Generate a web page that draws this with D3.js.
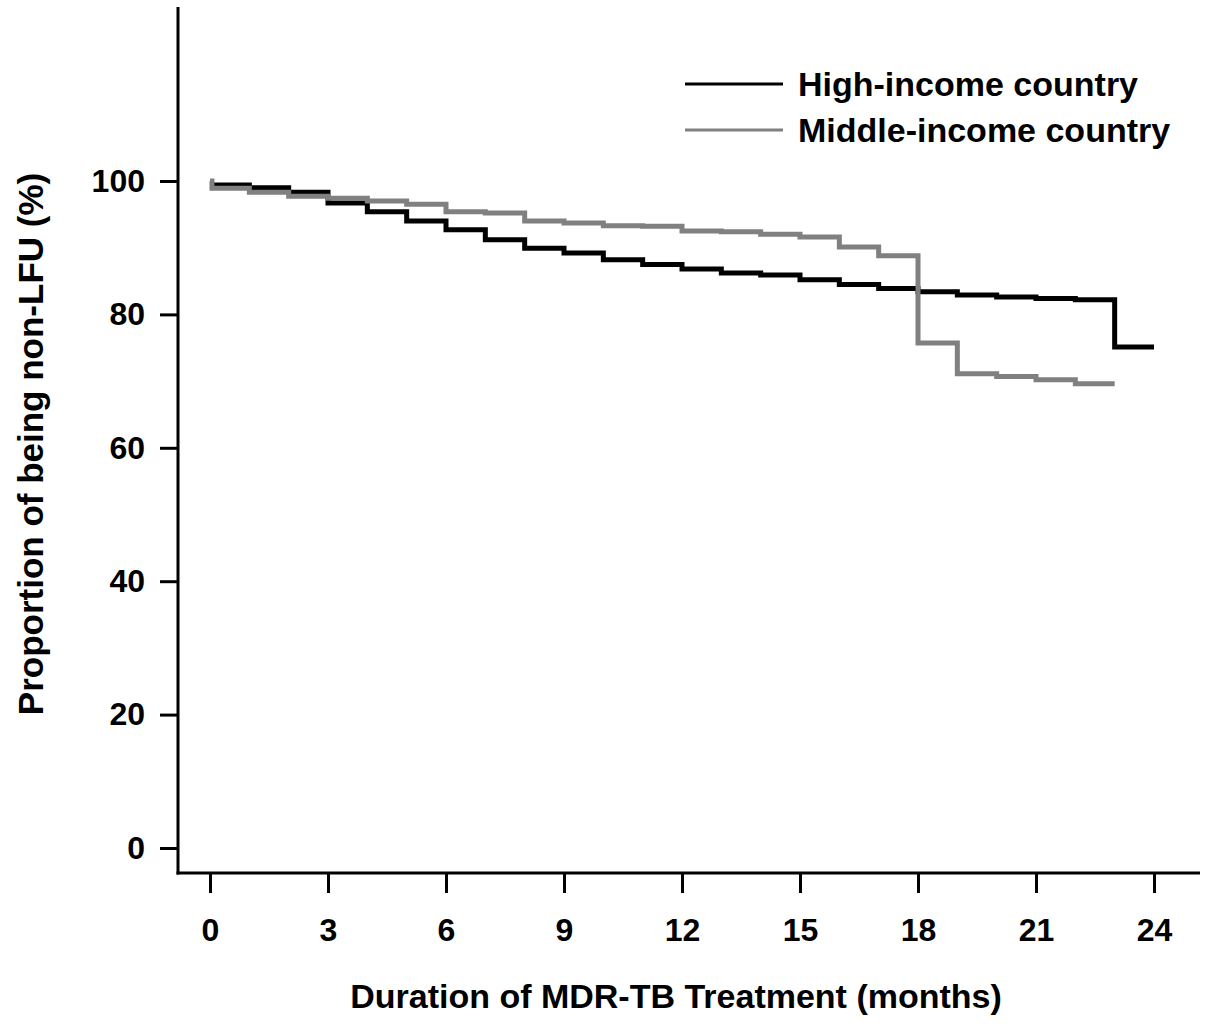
<!DOCTYPE html>
<html>
<head>
<meta charset="utf-8">
<script src="https://cdn.jsdelivr.net/npm/d3@7"></script>
<style>
  html, body { margin: 0; padding: 0; background: #fff; }
  svg { display: block; }
  text { font-family: "Liberation Sans", Arial, sans-serif; font-weight: bold; fill: #000; }
</style>
</head>
<body>
<svg id="chart" width="1207" height="1025"></svg>
<script>
// Kaplan-Meier style retention curves (percent not lost to follow-up)
const highMonths = [0, 1, 2, 3, 4, 5, 6, 7, 8, 9, 10, 11, 12, 13, 14, 15, 16, 17, 18, 19, 20, 21, 22, 23, 24];
const highValues = [99.4, 99.0, 98.3, 96.7, 95.4, 94.0, 92.7, 91.2, 89.9, 89.2, 88.2, 87.5, 86.8, 86.2, 85.9, 85.2, 84.5, 83.9, 83.4, 82.9, 82.6, 82.4, 82.2, 75.1, 75.1];

const middleMonths = [0, 0.05, 1, 2, 3, 4, 5, 6, 7, 8, 9, 10, 11, 12, 13, 14, 15, 16, 17, 18, 19, 20, 21, 22, 23];
const middleValues = [100, 98.9, 98.3, 97.7, 97.4, 97.0, 96.5, 95.4, 95.2, 94.0, 93.7, 93.3, 93.2, 92.5, 92.4, 92.0, 91.6, 90.1, 88.8, 75.7, 71.1, 70.7, 70.2, 69.6, 69.6];

const xTicks = [0, 3, 6, 9, 12, 15, 18, 21, 24];
const yTicks = [0, 20, 40, 60, 80, 100];

const seriesNames = ["High-income country", "Middle-income country"];
const seriesColors = ["#000000", "#808080"];

const svg = d3.select("#chart");

const x = d3.scaleLinear().domain([0, 24]).range([210, 1154]);
const y = d3.scaleLinear().domain([0, 100]).range([848, 181]);

const axisX0 = 178, axisY0 = 873;

// axes
const xAxis = d3.axisBottom(x).tickValues(xTicks).tickSize(20).tickPadding(25);
const gx = svg.append("g").attr("transform", `translate(0,${axisY0})`).call(xAxis);
gx.select(".domain").remove();
gx.selectAll(".tick line").attr("stroke", "#000").attr("stroke-width", 3);
gx.selectAll(".tick text").attr("font-size", 32).attr("font-family", "Liberation Sans, Arial, sans-serif").attr("font-weight", "bold");

const yAxis = d3.axisLeft(y).tickValues(yTicks).tickSize(18).tickPadding(15);
const gy = svg.append("g").attr("transform", `translate(${axisX0},0)`).call(yAxis);
gy.select(".domain").remove();
gy.selectAll(".tick line").attr("stroke", "#000").attr("stroke-width", 3);
gy.selectAll(".tick text").attr("font-size", 32).attr("font-family", "Liberation Sans, Arial, sans-serif").attr("font-weight", "bold");

svg.append("line").attr("x1", axisX0).attr("x2", axisX0).attr("y1", 7).attr("y2", axisY0 + 1.5)
  .attr("stroke", "#000").attr("stroke-width", 3);
svg.append("line").attr("x1", axisX0 - 1.5).attr("x2", 1200).attr("y1", axisY0).attr("y2", axisY0)
  .attr("stroke", "#000").attr("stroke-width", 3);

// curves: the grey series is drawn over the black one
const line = d3.line()
  .x(d => x(d[0]))
  .y(d => y(d[1]))
  .curve(d3.curveStepAfter);

const highData = d3.zip(highMonths, highValues);
const middleData = d3.zip(middleMonths, middleValues);

svg.append("path").datum(highData).attr("d", line)
  .attr("fill", "none").attr("stroke", seriesColors[0]).attr("stroke-width", 5);
svg.append("path").datum(middleData).attr("d", line)
  .attr("fill", "none").attr("stroke", seriesColors[1]).attr("stroke-width", 5);

// legend
const legend = svg.append("g");
seriesNames.forEach((name, i) => {
  const ly = 84 + i * 46;
  legend.append("line").attr("x1", 685).attr("x2", 783).attr("y1", ly).attr("y2", ly)
    .attr("stroke", seriesColors[i]).attr("stroke-width", 3);
  legend.append("text").attr("x", 798).attr("y", ly).attr("dy", "0.36em")
    .attr("font-size", 34).text(name);
});

// axis titles
svg.append("text").attr("x", 676).attr("y", 1008).attr("text-anchor", "middle")
  .attr("font-size", 34).text("Duration of MDR-TB Treatment (months)");
svg.append("text").attr("transform", "translate(43,444) rotate(-90)").attr("text-anchor", "middle")
  .attr("font-size", 35).text("Proportion of being non-LFU (%)");
</script>
</body>
</html>
